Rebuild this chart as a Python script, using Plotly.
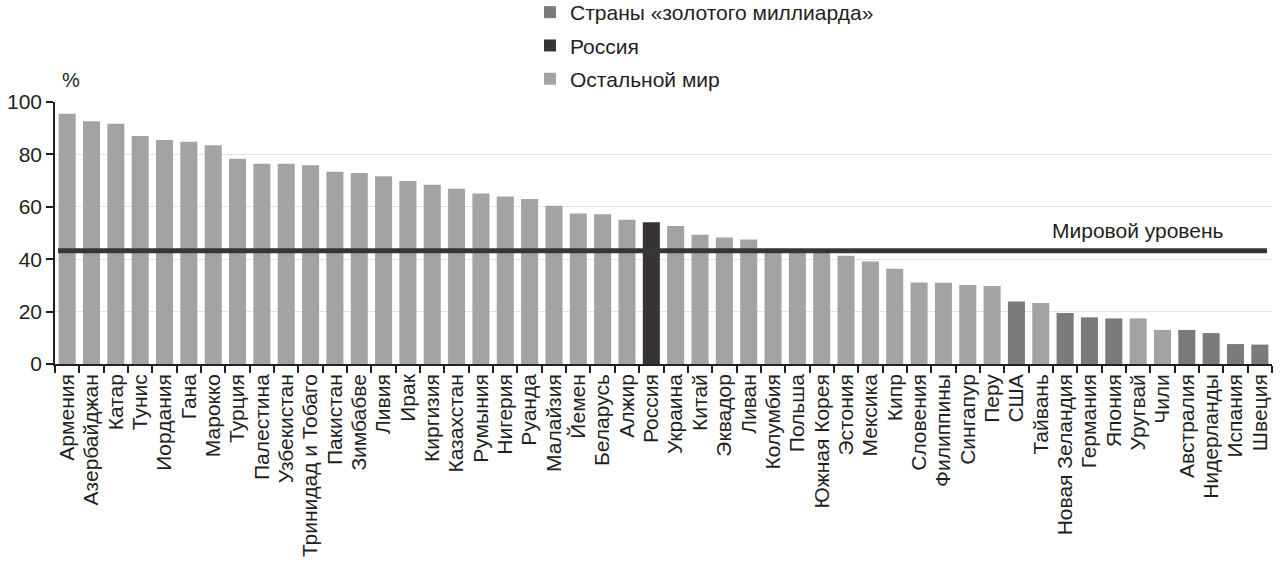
import plotly.graph_objects as go

countries = ["Армения", "Азербайджан", "Катар", "Тунис", "Иордания", "Гана", "Марокко", "Турция",
             "Палестина", "Узбекистан", "Тринидад и Тобаго", "Пакистан", "Зимбабве", "Ливия", "Ирак",
             "Киргизия", "Казахстан", "Румыния", "Нигерия", "Руанда", "Малайзия", "Йемен", "Беларусь",
             "Алжир", "Россия", "Украина", "Китай", "Эквадор", "Ливан", "Колумбия", "Польша",
             "Южная Корея", "Эстония", "Мексика", "Кипр", "Словения", "Филиппины", "Сингапур", "Перу",
             "США", "Тайвань", "Новая Зеландия", "Германия", "Япония", "Уругвай", "Чили", "Австралия",
             "Нидерланды", "Испания", "Швеция"]
values = [95.5, 92.7, 91.7, 87.0, 85.5, 84.8, 83.5, 78.3,
          76.4, 76.4, 75.9, 73.4, 72.9, 71.7, 69.8,
          68.4, 66.9, 65.1, 63.9, 63.0, 60.4, 57.4, 57.2,
          55.1, 54.1, 52.7, 49.3, 48.3, 47.5, 44.0, 43.5,
          42.8, 41.3, 39.1, 36.4, 31.1, 31.0, 30.2, 29.8,
          23.9, 23.3, 19.5, 17.8, 17.4, 17.4, 13.0, 13.0,
          11.8, 7.6, 7.4]
golden_billion = ["США", "Новая Зеландия", "Германия", "Япония", "Австралия", "Нидерланды", "Испания", "Швеция"]
russia = ["Россия"]
world_level = 43.2

group_names = ["Страны «золотого миллиарда»", "Россия", "Остальной мир"]
group_colors = ["#7b7b7b", "#383334", "#a3a3a3"]

def group_of(c):
    if c in golden_billion:
        return 0
    if c in russia:
        return 1
    return 2

fig = go.Figure()
for gi, (name, color) in enumerate(zip(group_names, group_colors)):
    xs = [c for c in countries if group_of(c) == gi]
    ys = [v for c, v in zip(countries, values) if group_of(c) == gi]
    fig.add_trace(go.Bar(x=xs, y=ys, name=name, marker=dict(color=color, line=dict(width=0)),
                         width=0.7, legendgroup=str(gi)))

L, R, T, B = 55, 8, 102, 214
W, H = 1280, 578
pw = W - L - R
ph = H - T - B

def px_x(x):
    return (x - L) / pw

def px_y(y):
    return (H - B - y) / ph

TXT = "#231f20"

fig.add_shape(type="line", xref="paper", yref="y", x0=px_x(58), x1=px_x(1267),
              y0=world_level, y1=world_level, line=dict(color="#363636", width=5), layer="above")

fig.add_annotation(text="Мировой уровень", xref="paper", yref="paper",
                   x=px_x(1226), y=px_y(230), xanchor="right", yanchor="middle",
                   showarrow=False, font=dict(size=21, color=TXT))
fig.add_annotation(text="%", xref="paper", yref="paper",
                   x=px_x(60), y=px_y(80), xanchor="left", yanchor="middle",
                   showarrow=False, font=dict(size=20, color=TXT))

fig.update_layout(
    width=W, height=H,
    margin=dict(l=L, r=R, t=T, b=B, autoexpand=False),
    barmode="overlay",
    plot_bgcolor="white", paper_bgcolor="white",
    font=dict(family="Liberation Sans, Arial, sans-serif", color=TXT),
    showlegend=True,
    legend=dict(x=px_x(530), y=px_y(-8), xanchor="left", yanchor="top",
                font=dict(size=21, color=TXT), tracegroupgap=3,
                bgcolor="rgba(0,0,0,0)", itemwidth=30),
    xaxis=dict(categoryorder="array", categoryarray=countries, tickangle=-90,
               tickmode="array", tickvals=countries, ticktext=countries,
               tickfont=dict(size=21, color=TXT), showline=True, linecolor=TXT,
               linewidth=1.5, ticks="outside", ticklen=7, tickcolor=TXT, tickwidth=1.5,
               tickson="boundaries", showgrid=False, automargin=False,
               range=[-0.5, len(countries) - 0.5]),
    yaxis=dict(range=[0, 100], dtick=20, tickfont=dict(size=21, color=TXT),
               showline=True, linecolor=TXT, linewidth=1.5, ticks="outside", ticklen=7,
               tickcolor=TXT, tickwidth=1.5, showgrid=True, gridcolor="#e3e3e3", gridwidth=1,
               zeroline=False, automargin=False),
)

fig.write_html("out.html", config={"displayModeBar": False},
               post_script="document.body.style.margin='0';")
